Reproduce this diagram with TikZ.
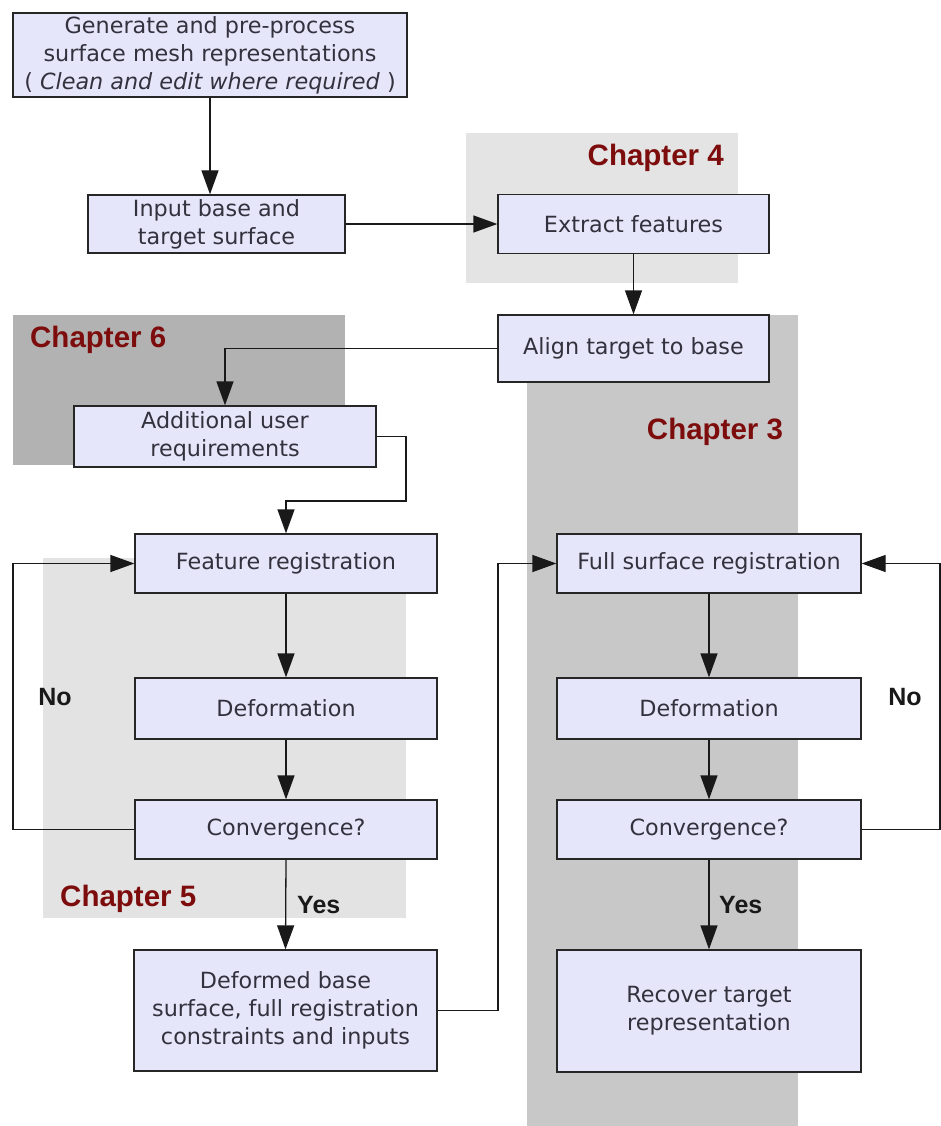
\documentclass[tikz,border=0pt]{standalone}
\usepackage{fontspec}
\setmainfont{DejaVu Sans}
\newfontfamily\chapfont{Liberation Sans}
\usetikzlibrary{arrows.meta}
\definecolor{boxfill}{RGB}{230,230,250}
\definecolor{boxtext}{RGB}{50,50,62}
\definecolor{chapred}{RGB}{125,12,12}
\definecolor{bgfour}{RGB}{228,228,228}
\definecolor{bgthree}{RGB}{200,200,200}
\definecolor{bgsix}{RGB}{178,178,178}
\definecolor{bgfive}{RGB}{227,227,227}
\tikzset{
  flowbox/.style={draw=black!85, fill=boxfill, line width=1.3pt, inner sep=0pt,
    align=center, text=boxtext, font=\fontsize{22.3}{28}\selectfont},
  chaplabel/.style={text=chapred, font=\chapfont\bfseries\fontsize{29.5}{32}\selectfont, inner sep=0pt},
  decision/.style={text=black!90, font=\chapfont\bfseries\fontsize{25}{28}\selectfont, inner sep=0pt},
  flow/.style={line width=1.3pt, draw=black!90, -{Triangle[length=24pt,width=17pt]}},
  plainline/.style={line width=1.3pt, draw=black!90}
}
\begin{document}
\begin{tikzpicture}[x=1pt,y=-1pt]
\useasboundingbox (0,0) rectangle (941,1126);
\fill[white] (0,0) rectangle (941,1126);
% background chapter regions
\fill[bgfour] (466,133) rectangle (738,283);
\fill[bgthree] (527,315) rectangle (798,1126);
\fill[bgsix] (13,315) rectangle (345,465);
\fill[bgfive] (43,558) rectangle (406,918);
% chapter labels
\node[chaplabel, anchor=east] (ch4) at (724,158) {Chapter 4};
\node[chaplabel, anchor=west] (ch6) at (30,340) {Chapter 6};
\node[chaplabel] (ch3) at (715,432) {Chapter 3};
\node[chaplabel, anchor=west] (ch5) at (60,899) {Chapter 5};
% boxes
\node[flowbox, minimum width=394pt, minimum height=84pt] (gen) at (210,55)
  {Generate and pre-process\\surface mesh representations\\( \textit{Clean and edit where required} )};
\node[flowbox, minimum width=257pt, minimum height=58pt] (input) at (216.5,224)
  {Input base and\\target surface};
\node[flowbox, minimum width=271pt, minimum height=59pt] (extract) at (633.5,224)
  {Extract features};
\node[flowbox, minimum width=271pt, minimum height=67pt] (align) at (633.5,348.5)
  {Align target to base};
\node[flowbox, minimum width=302pt, minimum height=61pt] (addreq) at (225,436.5)
  {Additional user\\requirements};
\node[flowbox, minimum width=302pt, minimum height=59pt] (featreg) at (286,563.5)
  {Feature registration};
\node[flowbox, minimum width=302pt, minimum height=61pt] (deform1) at (286,708.5)
  {Deformation};
\node[flowbox, minimum width=302pt, minimum height=59pt] (conv1) at (286,829.5)
  {Convergence?};
\node[flowbox, minimum width=303pt, minimum height=121pt] (deformed) at (285.5,1010.5)
  {Deformed base\\surface, full registration\\constraints and inputs};
\node[flowbox, minimum width=304pt, minimum height=59pt] (fullreg) at (709,563.5)
  {Full surface registration};
\node[flowbox, minimum width=304pt, minimum height=61pt] (deform2) at (709,708.5)
  {Deformation};
\node[flowbox, minimum width=304pt, minimum height=59pt] (conv2) at (709,829.5)
  {Convergence?};
\node[flowbox, minimum width=304pt, minimum height=122pt] (recover) at (709,1011)
  {Recover target\\representation};
% decision labels
\node[decision] (noL) at (55,697) {No};
\node[decision] (noR) at (905,697) {No};
\node[decision, anchor=west] (yesL) at (297,905) {Yes};
\node[decision, anchor=west] (yesR) at (719,905) {Yes};
% helper coordinates
\coordinate (c1) at (406,501);
\coordinate (loopL) at (13,700);
\coordinate (mid) at (498,800);
\coordinate (loopR) at (940,700);
% connectors
\draw[flow] (gen.south) -- (gen.south |- input.north);
\draw[flow] (input.east) -- (extract.west);
\draw[flow] (extract.south) -- (align.north);
\draw[flow] (align.west) -| (addreq.north);
\draw[flow] (addreq.east) -| (c1) -| (featreg.north);
\draw[flow] (featreg.south) -- (deform1.north);
\draw[flow] (deform1.south) -- (conv1.north);
\draw[flow] (conv1.west) -| (loopL) |- (featreg.west);
\draw[flow] (conv1.south) -- (deformed.north);
\draw[flow] (deformed.east) -| (mid) |- (fullreg.west);
\draw[flow] (fullreg.south) -- (deform2.north);
\draw[flow] (deform2.south) -- (conv2.north);
\draw[flow] (conv2.east) -| (loopR) |- (fullreg.east);
\draw[flow] (conv2.south) -- (recover.north);
\end{tikzpicture}
\end{document}
